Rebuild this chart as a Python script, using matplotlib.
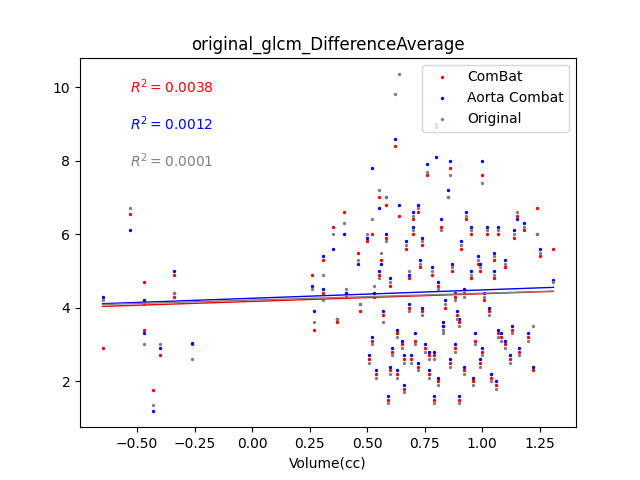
import matplotlib
matplotlib.use("Agg")
import matplotlib.pyplot as plt
import numpy as np

# volume (cc) shared by all three series
volume = [-0.65, -0.53, -0.47, -0.47, -0.43, -0.40, -0.34, -0.34, -0.26,
          0.26, 0.27, 0.31, 0.31, 0.35, 0.37, 0.40, 0.41, 0.46, 0.47, 0.50,
          0.51, 0.52, 0.53, 0.54, 0.55, 0.56, 0.57, 0.58, 0.59, 0.60, 0.61,
          0.62, 0.63, 0.64, 0.65, 0.66, 0.67, 0.68, 0.69, 0.70, 0.71, 0.72,
          0.73, 0.74, 0.75, 0.76, 0.77, 0.78, 0.79, 0.80, 0.81, 0.82, 0.83,
          0.84, 0.85, 0.86, 0.87, 0.88, 0.89, 0.90, 0.91, 0.92, 0.93, 0.95,
          0.96, 0.97, 0.98, 0.99, 1.00, 1.01, 1.02, 1.03, 1.04, 1.05, 1.06,
          1.07, 1.08, 1.10, 1.12, 1.13, 1.15, 1.16, 1.18, 1.20, 1.22, 1.24,
          1.25, 1.31, 0.52, 0.58, 0.63, 0.68, 0.72, 0.77, 0.81, 0.86, 0.90,
          0.95, 1.00, 1.05, 1.10, 0.55, 0.66, 0.74, 0.83, 0.92, 0.99, 0.60,
          0.70, 0.79, 0.88, 1.07, 1.14]
combat = [2.9, 6.55, 4.7, 3.4, 1.75, 2.7, 4.9, 4.3, 3.0,
          4.9, 3.4, 5.3, 4.4, 6.2, 3.6, 6.6, 4.3, 5.5, 3.9, 5.8,
          2.6, 6.0, 4.3, 2.2, 7.0, 5.3, 3.8, 6.8, 1.5, 4.6, 2.8,
          8.4, 2.2, 6.5, 3.0, 1.8, 5.6, 4.8, 2.6, 6.0, 3.1, 2.4,
          5.1, 3.9, 2.9, 7.6, 2.2, 4.9, 1.5, 8.9, 2.0, 6.2, 3.4,
          4.0, 7.0, 2.5, 5.0, 2.9, 3.8, 1.5, 5.6, 2.3, 6.4, 4.8,
          2.0, 3.1, 5.2, 2.5, 7.6, 4.2, 6.0, 3.9, 2.1, 4.8, 1.9,
          6.0, 3.2, 5.1, 2.6, 3.4, 6.5, 2.8, 6.1, 3.2, 2.3, 6.7,
          5.4, 5.6, 3.1, 5.9, 3.3, 4.0, 6.6, 2.7, 4.6, 7.8, 3.6,
          6.0, 2.8, 5.3, 3.0, 4.9, 2.6, 5.7, 3.5, 4.4, 5.0, 2.3,
          6.4, 2.7, 4.3, 3.3, 5.9]
aorta = [4.3, 6.1, 4.2, 3.3, 1.2, 2.9, 5.0, 4.4, 3.05,
         4.6, 3.9, 5.4, 4.5, 5.6, 3.7, 6.0, 4.4, 5.2, 4.1, 5.9,
         2.7, 7.8, 4.4, 2.3, 6.7, 5.2, 3.9, 7.0, 1.6, 4.8, 2.9,
         8.6, 2.3, 6.8, 3.1, 1.9, 5.8, 4.9, 2.7, 6.2, 3.3, 2.5,
         5.3, 4.0, 3.0, 7.9, 2.3, 5.1, 1.6, 8.1, 2.1, 6.4, 3.5,
         4.2, 7.2, 2.6, 5.2, 3.0, 3.9, 1.6, 5.8, 2.4, 6.6, 5.0,
         2.1, 3.3, 5.4, 2.6, 8.0, 4.4, 6.2, 4.0, 2.2, 5.0, 2.0,
         6.2, 3.3, 5.3, 2.7, 3.5, 6.4, 2.9, 6.3, 3.3, 2.4, 6.0,
         5.6, 4.75, 3.2, 6.0, 3.4, 4.1, 6.8, 2.8, 4.7, 8.0, 3.7,
         6.2, 2.9, 5.5, 3.1, 5.0, 2.7, 5.9, 3.6, 4.5, 5.2, 2.4,
         6.6, 2.8, 4.4, 3.4, 6.1]
original = [4.2, 6.7, 4.1, 3.0, 1.35, 3.0, 4.4, 4.4, 2.6,
            4.5, 3.6, 4.9, 4.2, 6.0, 3.7, 6.3, 4.5, 5.3, 4.1, 6.0,
            2.5, 6.4, 4.6, 2.1, 7.2, 5.5, 3.6, 7.0, 1.4, 4.7, 2.7,
            9.8, 2.1, 10.35, 2.9, 1.7, 5.7, 5.0, 2.5, 6.1, 3.0, 2.3,
            5.2, 3.8, 2.8, 7.7, 2.1, 5.0, 1.4, 9.0, 1.9, 6.1, 3.3,
            4.1, 7.0, 2.4, 5.1, 2.8, 3.7, 1.4, 5.7, 2.2, 6.5, 4.9,
            1.9, 3.0, 5.3, 2.4, 7.4, 4.3, 6.1, 3.8, 2.0, 4.9, 1.8,
            6.1, 3.1, 5.2, 2.5, 3.3, 6.6, 2.7, 6.2, 3.1, 3.5, 6.0,
            5.5, 4.7, 3.0, 5.8, 3.2, 3.9, 6.7, 2.6, 4.5, 7.6, 3.5,
            6.1, 2.7, 5.4, 2.9, 4.8, 2.5, 5.8, 3.4, 4.3, 5.1, 2.2,
            6.5, 2.6, 4.2, 3.2, 6.0]

series = [("ComBat", combat, "red"), ("Aorta Combat", aorta, "blue"),
          ("Original", original, "gray")]
r2_labels = ["$R^2 = 0.0038$", "$R^2 = 0.0012$", "$R^2 = 0.0001$"]

fig, ax = plt.subplots(figsize=(6.4, 4.8), dpi=100)
x = np.array(volume)
xs = np.array([x.min(), x.max()])
for (label, y, color) in series:
    ax.scatter(x, y, s=2, color=color, label=label)
for (label, y, color) in series:
    slope, intercept = np.polyfit(x, y, 1)
    ax.plot(xs, slope * xs + intercept, color=color, linewidth=1)
for i, (text, (_, _, color)) in enumerate(zip(r2_labels, series)):
    ax.text(0.1, 0.92 - 0.1 * i, text, color=color, transform=ax.transAxes,
            fontsize=10, va="center")

ax.set_title("original_glcm_DifferenceAverage")
ax.set_xlabel("Volume(cc)")
ax.set_ylim(0.75, 10.8)
ax.legend(loc="upper right")
fig.savefig("out.png")
